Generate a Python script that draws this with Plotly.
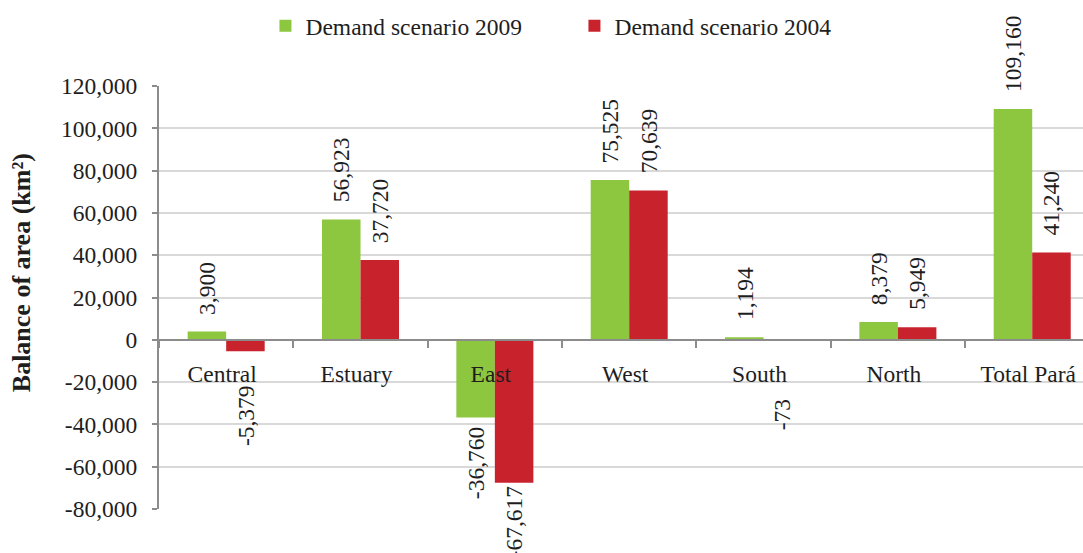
import plotly.graph_objects as go

categories = ["Central", "Estuary", "East", "West", "South", "North", "Total Pará"]
demand_2009 = [3900, 56923, -36760, 75525, 1194, 8379, 109160]
demand_2004 = [-5379, 37720, -67617, 70639, -73, 5949, 41240]
series_names = ["Demand scenario 2009", "Demand scenario 2004"]
series_colors = ["#8DC63F", "#C8232C"]
y_tick_values = [-80000, -60000, -40000, -20000, 0, 20000, 40000, 60000, 80000, 100000, 120000]
y_title = "Balance of area (km²)"

# label placement offsets (pixels) for labels below negative bars
neg_label_gap = {(1, 0): 32, (0, 2): 8, (1, 2): 1, (1, 4): 57}
pos_label_gap = 15

FONT = "Liberation Serif"
FS = 23.5
TXT = "#1e1e1e"

fig = go.Figure()
all_series = [demand_2009, demand_2004]
for name, vals, col in zip(series_names, all_series, series_colors):
    fig.add_trace(go.Bar(x=categories, y=vals, name=name, marker_color=col,
                         marker_line_width=0))

bar_half = 19.25
annotations = []
for si, vals in enumerate(all_series):
    xs = -bar_half if si == 0 else bar_half
    for ci, (cat, v) in enumerate(zip(categories, vals)):
        if v >= 0:
            annotations.append(dict(x=cat, y=v, xref="x", yref="y", text=f"{v:,}",
                                    textangle=-90, showarrow=False, xshift=xs,
                                    yanchor="bottom", yshift=pos_label_gap,
                                    font=dict(family=FONT, size=FS, color=TXT)))
        else:
            gap = neg_label_gap.get((si, ci), 10)
            annotations.append(dict(x=cat, y=v, xref="x", yref="y", text=f"{v:,}",
                                    textangle=-90, showarrow=False, xshift=xs,
                                    yanchor="top", yshift=-gap,
                                    font=dict(family=FONT, size=FS, color=TXT)))

annotations.append(dict(x=-0.148, y=0.558, xref="paper", yref="paper", text=y_title,
                        textangle=-90, showarrow=False, xanchor="center", yanchor="middle",
                        font=dict(family=FONT, size=26, color=TXT, weight="bold")))

fig.update_layout(
    width=1083, height=553,
    margin=dict(l=159, r=0, t=86, b=44, autoexpand=False),
    paper_bgcolor="white", plot_bgcolor="white",
    barmode="group", bargap=0.4267, bargroupgap=0,
    font=dict(family=FONT, size=FS, color=TXT),
    showlegend=True,
    legend=dict(orientation="h", x=0.1152, y=1.142, xanchor="left", yanchor="middle",
                font=dict(family=FONT, size=FS, color=TXT), entrywidth=264,
                bgcolor="rgba(0,0,0,0)"),
    annotations=annotations,
    xaxis=dict(type="category", range=[-0.5, 6.378], anchor="free", position=0.4,
               showline=True, linecolor="#8C8C8C", linewidth=2,
               ticks="outside", tickson="boundaries", ticklen=7, tickwidth=1.5,
               tickcolor="#8C8C8C", showgrid=False, ticklabelstandoff=13,
               ticklabelshift=-4,
               tickfont=dict(family=FONT, size=FS, color=TXT)),
    yaxis=dict(range=[-80000, 120000], tickvals=y_tick_values,
               ticktext=[f"{v:,}" for v in y_tick_values],
               showline=True, linecolor="#8C8C8C", linewidth=2,
               ticks="outside", ticklen=5, tickwidth=1.5, tickcolor="#8C8C8C",
               showgrid=True, gridcolor="#D9D9D9", gridwidth=1.5,
               zeroline=False, ticklabelstandoff=10,
               tickfont=dict(family=FONT, size=FS, color=TXT)),
)

fig.write_html("out.html", config={"displayModeBar": False},
               post_script="document.body.style.margin='0';document.body.style.overflow='hidden';")
